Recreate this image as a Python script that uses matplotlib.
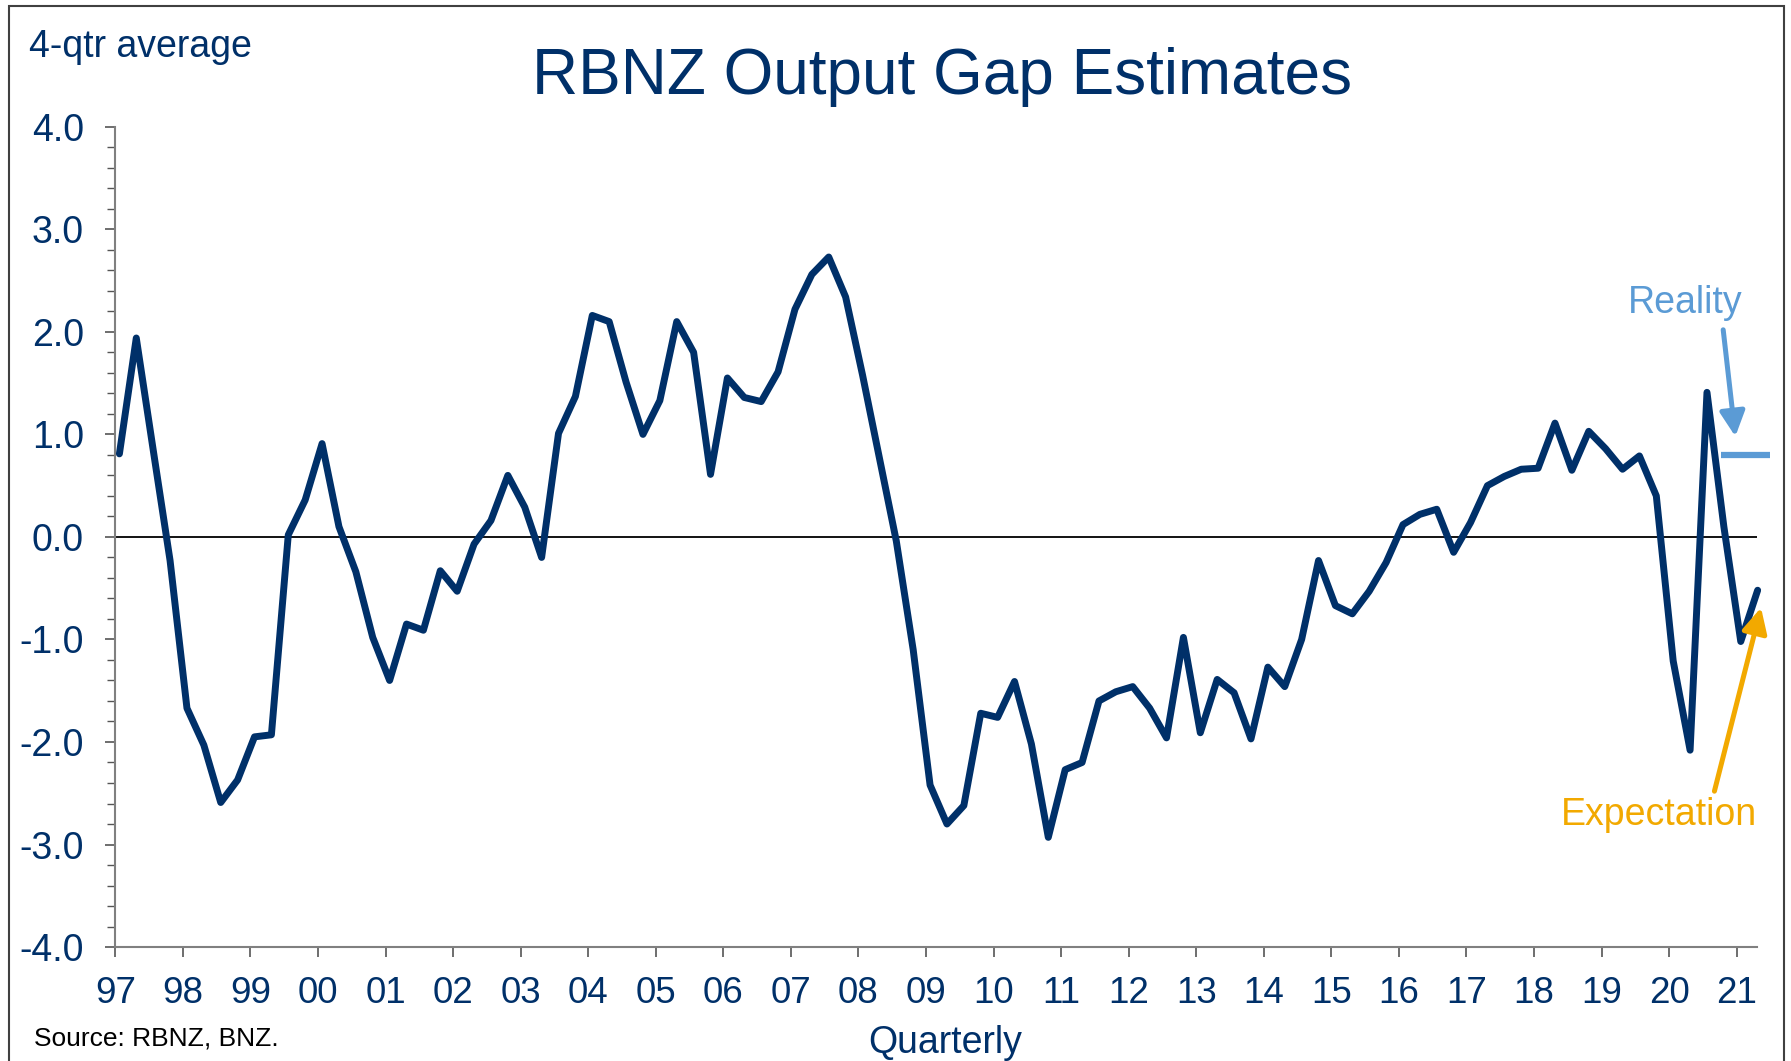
import matplotlib
matplotlib.use("Agg")
import matplotlib.pyplot as plt
from matplotlib.patches import Rectangle
from matplotlib.ticker import MultipleLocator

NAVY = "#003069"
LIGHT_BLUE = "#5B9BD5"
ORANGE = "#F2A900"

plt.rcParams["font.family"] = ["Liberation Sans", "DejaVu Sans"]
plt.rcParams["axes.unicode_minus"] = False

# RBNZ output gap, 4-qtr average, 1997Q1 .. 2021Q2
years = list(range(1997, 2022))
gap = [
    0.81, 1.94, 0.85, -0.23,     # 1997
    -1.67, -2.03, -2.59, -2.37,  # 1998
    -1.95, -1.93, 0.02, 0.36,    # 1999
    0.91, 0.10, -0.34, -0.98,    # 2000
    -1.40, -0.85, -0.91, -0.33,  # 2001
    -0.53, -0.07, 0.16, 0.60,    # 2002
    0.29, -0.20, 1.01, 1.37,     # 2003
    2.16, 2.10, 1.51, 1.00,      # 2004
    1.33, 2.10, 1.80, 0.61,      # 2005
    1.55, 1.36, 1.32, 1.61,      # 2006
    2.22, 2.56, 2.73, 2.34,      # 2007
    1.58, 0.77, -0.04, -1.10,    # 2008
    -2.42, -2.80, -2.62, -1.72,  # 2009
    -1.76, -1.41, -2.02, -2.93,  # 2010
    -2.27, -2.20, -1.60, -1.51,  # 2011
    -1.46, -1.67, -1.96, -0.98,  # 2012
    -1.91, -1.39, -1.52, -1.97,  # 2013
    -1.27, -1.46, -1.00, -0.23,  # 2014
    -0.67, -0.75, -0.53, -0.25,  # 2015
    0.12, 0.22, 0.27, -0.15,     # 2016
    0.14, 0.50, 0.59, 0.66,      # 2017
    0.67, 1.11, 0.65, 1.03,      # 2018
    0.86, 0.66, 0.79, 0.40,      # 2019
    -1.21, -2.08, 1.41, 0.10,    # 2020
    -1.02, -0.52,                # 2021
]
# points sit a touch right of the year tick, like the excel date axis
quarter_x = [1997.06 + i * 0.25 for i in range(len(gap))]
year_labels = [f"{y % 100:02d}" for y in years]

reality_level = 0.8
reality_span = (2020.77, 2021.49)

fig = plt.figure(figsize=(17.91, 10.61), dpi=100)
ax = fig.add_axes([0.0644, 0.1074, 0.9166, 0.7731])

ax.plot(quarter_x, gap, color=NAVY, lw=5.0, solid_joinstyle="round",
        solid_capstyle="round", clip_on=False, zorder=3)
ax.axhline(0, color="black", lw=1.3, zorder=2)

ax.set_xlim(1997, 2021.3)
ax.set_ylim(-4, 4)
ax.set_xticks(years)
ax.set_xticklabels(year_labels)
ax.yaxis.set_major_locator(MultipleLocator(1.0))
ax.yaxis.set_minor_locator(MultipleLocator(0.2))
ax.yaxis.set_major_formatter(plt.FormatStrFormatter("%.1f"))

for side in ("top", "right"):
    ax.spines[side].set_visible(False)
for side in ("left", "bottom"):
    ax.spines[side].set_color("#808080")
    ax.spines[side].set_linewidth(1.5)

ax.tick_params(axis="y", which="major", direction="out", length=7.5, width=1.2,
               color="#555555", labelsize=27, labelcolor=NAVY, pad=15)
ax.tick_params(axis="y", which="minor", direction="out", length=5.5, width=1.0,
               color="#555555")
ax.tick_params(axis="x", which="major", direction="out", length=7.5, width=1.2,
               color="#555555", labelsize=26.5, labelcolor=NAVY, pad=13)

# reality marker
ax.plot(reality_span, [reality_level, reality_level], color=LIGHT_BLUE, lw=4.5,
        clip_on=False, solid_capstyle="butt", zorder=3)
ax.annotate("", xy=(2020.98, 0.98), xytext=(2020.80, 2.02),
            arrowprops=dict(arrowstyle="-|>,head_length=0.75,head_width=0.38",
                            color=LIGHT_BLUE, lw=3.6, mutation_scale=20,
                            shrinkA=0, shrinkB=0),
            annotation_clip=False)
ax.text(2020.24, 2.18, "Reality", color=LIGHT_BLUE, fontsize=27,
        ha="center", va="baseline", clip_on=False)

# expectation marker
ax.annotate("", xy=(2021.36, -0.69), xytext=(2020.67, -2.48),
            arrowprops=dict(arrowstyle="-|>,head_length=0.75,head_width=0.38",
                            color=ORANGE, lw=3.6, mutation_scale=20,
                            shrinkA=0, shrinkB=0),
            annotation_clip=False)
ax.text(2019.85, -2.81, "Expectation", color=ORANGE, fontsize=27,
        ha="center", va="baseline", clip_on=False)

fig.text(0.526, 0.9117, "RBNZ Output Gap Estimates", color=NAVY, fontsize=46,
         ha="center", va="baseline")
fig.text(0.016, 0.946, "4-qtr average", color=NAVY, fontsize=27,
         ha="left", va="baseline")
fig.text(0.528, 0.0075, "Quarterly", color=NAVY, fontsize=27,
         ha="center", va="baseline")
fig.text(0.019, 0.015, "Source: RBNZ, BNZ.", color="black", fontsize=19,
         ha="left", va="baseline")

fig.patches.append(Rectangle((9 / 1791, -0.01), (1784 - 9) / 1791, 1.01 - 6 / 1061,
                             transform=fig.transFigure, fill=False,
                             edgecolor="#404040", lw=1.5))

fig.savefig("out.png", dpi=100)
